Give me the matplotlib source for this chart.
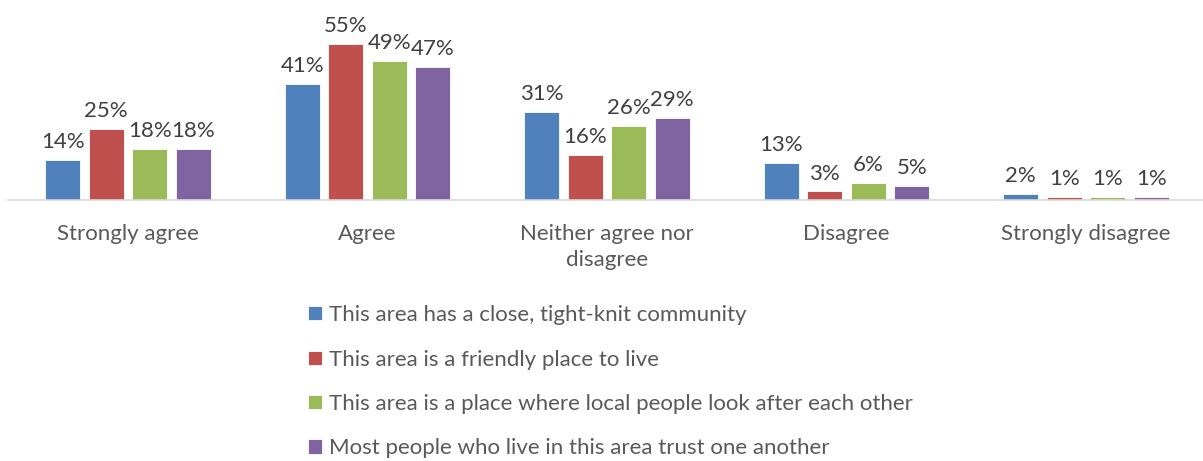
import matplotlib.pyplot as plt
import numpy as np

plt.rcParams['font.family'] = ['Lato', 'DejaVu Sans']

categories = ["Strongly agree", "Agree", "Neither agree nor\ndisagree", "Disagree", "Strongly disagree"]
series_names = ["This area has a close, tight-knit community",
                "This area is a friendly place to live",
                "This area is a place where local people look after each other",
                "Most people who live in this area trust one another"]
close_knit = [14, 41, 31, 13, 2]
friendly = [25, 55, 16, 3, 1]
look_after = [18, 49, 26, 6, 1]
trust = [18, 47, 29, 5, 1]
colors = ["#4F81BD", "#C0504D", "#9BBB59", "#8064A2"]

fig = plt.figure(figsize=(12.03, 4.61), dpi=100)
ax = fig.add_axes([8.25/1203, 261/461, 1197.5/1203, 170.4/461])

x = np.arange(len(categories))
pitch = 0.1816
width = 0.146
for i, (vals, name) in enumerate(zip([close_knit, friendly, look_after, trust], series_names)):
    bars = ax.bar(x + (i - 1.5) * pitch, vals, width, color=colors[i], label=name,
                  edgecolor="white", linewidth=0.6)
    for b, v in zip(bars, vals):
        ax.text(b.get_x() + b.get_width()/2, v + 2.8, f"{v}%", ha="center", va="bottom",
                fontsize=16, color="#404040")

ax.set_xlim(-0.5, 4.5)
ax.set_ylim(0, 60)
ax.set_yticks([])
ax.set_xticks(x)
ax.set_xticklabels(categories, fontsize=16, color="#595959", linespacing=1.4)
ax.tick_params(axis="x", length=0, pad=17)
for s in ["top", "left", "right"]:
    ax.spines[s].set_visible(False)
ax.spines["bottom"].set_color("#D9D9D9")
ax.spines["bottom"].set_linewidth(1.2)

leg = fig.legend(loc="upper left", bbox_to_anchor=(297/1203, 1 - 294/461), frameon=False,
                 fontsize=16, handlelength=0.62, handleheight=0.62, handletextpad=0.33,
                 labelspacing=1.1, borderpad=0)
for t in leg.get_texts():
    t.set_color("#595959")

plt.savefig("out.png", dpi=100)
